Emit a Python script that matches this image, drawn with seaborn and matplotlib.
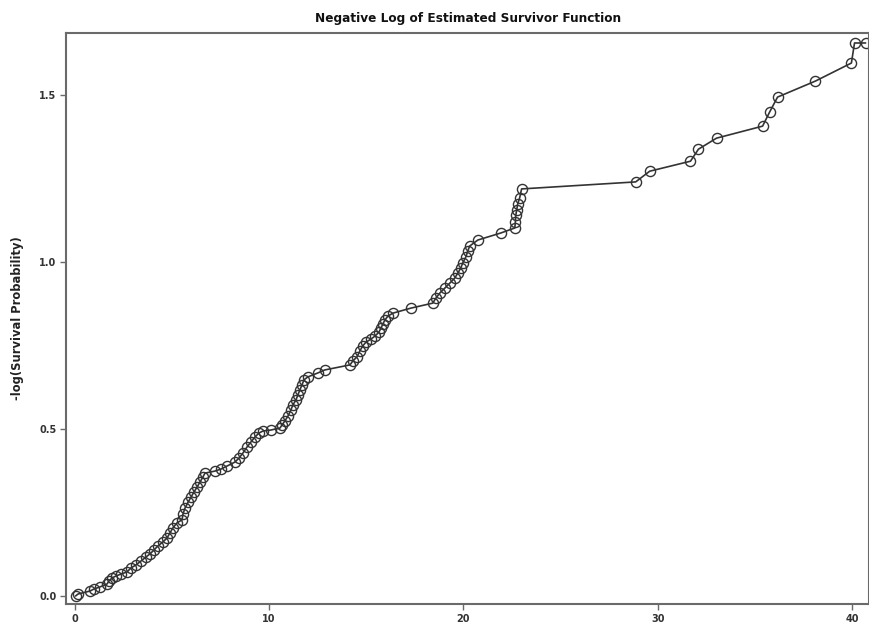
import pandas as pd
import seaborn as sns
import matplotlib.pyplot as plt

# event times and -log S(t)
time = [
    0.05, 0.18, 0.8, 1.0, 1.3, 1.67, 1.77, 1.93, 2.13, 2.4,
    2.7, 2.9, 3.16, 3.42, 3.68, 3.88, 4.09, 4.29, 4.55, 4.76,
    4.91, 5.06, 5.27, 5.53, 5.58, 5.68, 5.84, 5.99, 6.14, 6.3,
    6.45, 6.6, 6.71, 7.22, 7.53, 7.84, 8.25, 8.46, 8.66, 8.87,
    9.07, 9.28, 9.49, 9.69, 10.1, 10.57, 10.67, 10.82, 10.98, 11.13,
    11.23, 11.39, 11.49, 11.59, 11.7, 11.8, 12.0, 12.52, 12.88, 14.17,
    14.32, 14.53, 14.68, 14.83, 14.99, 15.24, 15.45, 15.66, 15.76, 15.86,
    15.96, 16.12, 16.38, 17.3, 18.43, 18.59, 18.79, 19.05, 19.31, 19.56,
    19.72, 19.87, 19.97, 20.13, 20.23, 20.33, 20.75, 21.93, 22.65, 22.68,
    22.7, 22.75, 22.8, 22.9, 23.0, 28.87, 29.59, 31.69, 32.1, 33.03,
    35.4, 35.76, 36.17, 38.12, 39.97, 40.13, 40.7,
]
neg_log_surv = [
    0.0, 0.006, 0.015, 0.021, 0.027, 0.036, 0.045, 0.054, 0.06, 0.066,
    0.072, 0.084, 0.093, 0.105, 0.117, 0.126, 0.138, 0.15, 0.162, 0.174,
    0.189, 0.204, 0.219, 0.228, 0.246, 0.263, 0.281, 0.296, 0.311, 0.326,
    0.341, 0.356, 0.368, 0.374, 0.38, 0.389, 0.401, 0.413, 0.428, 0.446,
    0.461, 0.476, 0.488, 0.494, 0.497, 0.503, 0.512, 0.524, 0.539, 0.557,
    0.572, 0.587, 0.602, 0.617, 0.632, 0.647, 0.656, 0.668, 0.677, 0.692,
    0.704, 0.716, 0.734, 0.749, 0.76, 0.769, 0.778, 0.79, 0.802, 0.814,
    0.826, 0.838, 0.847, 0.862, 0.877, 0.892, 0.907, 0.922, 0.937, 0.952,
    0.967, 0.982, 0.997, 1.015, 1.033, 1.048, 1.066, 1.087, 1.102, 1.12,
    1.14, 1.156, 1.174, 1.192, 1.219, 1.24, 1.272, 1.302, 1.338, 1.371,
    1.407, 1.449, 1.494, 1.542, 1.596, 1.656, 1.656,
]

x_ticks = [0, 10, 20, 30, 40]
y_ticks = [0.0, 0.5, 1.0, 1.5]

df = pd.DataFrame({"time": time, "nls": neg_log_surv})

sns.set_style("ticks")
plt.rcParams["font.family"] = ["DejaVu Sans"]

fig = plt.figure(figsize=(8.7, 6.28), dpi=100)
ax = fig.add_axes([0.0759, 0.0382, 0.9235, 0.9093])

sns.lineplot(x="time", y="nls", data=df, ax=ax, sort=False, color="#333333",
             linewidth=1.2, marker="o", markersize=7.3,
             markerfacecolor="none", markeredgecolor="#333333",
             markeredgewidth=1.0)

ax.set_xlim(-0.44, 40.9)
ax.set_ylim(-0.024, 1.686)
ax.set_xticks(x_ticks)
ax.set_xticklabels([str(t) for t in x_ticks])
ax.set_yticks(y_ticks)
ax.set_yticklabels([f"{t:.1f}" for t in y_ticks])

for side in ["left", "bottom", "top", "right"]:
    ax.spines[side].set_color("#6a6a6a")
    ax.spines[side].set_linewidth(1.5)

ax.tick_params(axis="both", length=4, width=1, color="#6a6a6a",
               labelsize=7, labelcolor="#333333", pad=3)
for lab in ax.get_xticklabels() + ax.get_yticklabels():
    lab.set_fontweight("bold")

ax.set_xlabel("")
ax.set_ylabel("-log(Survival Probability)", fontsize=8.3, fontweight="bold",
              color="#222222", labelpad=11)
ax.set_title("Negative Log of Estimated Survivor Function", fontsize=8.7,
             fontweight="bold", color="#111111", pad=8)

fig.savefig("out.png", dpi=100)
